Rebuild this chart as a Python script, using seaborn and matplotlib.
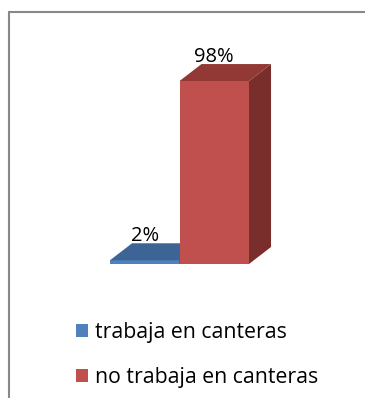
import matplotlib
matplotlib.use("Agg")
import matplotlib.pyplot as plt
from matplotlib.patches import Polygon, Patch
from matplotlib.lines import Line2D
import seaborn as sns
import pandas as pd

sns.set_theme(style="white")
plt.rcParams["font.family"] = ["Open Sans", "DejaVu Sans"]
plt.rcParams["text.color"] = "#000000"

categories = ["trabaja en canteras", "no trabaja en canteras"]
values = [2, 98]
value_labels = ["2%", "98%"]

front_colors = ["#4F81BD", "#C0504D"]
top_colors = ["#3C6596", "#923936"]
side_colors = ["#2F5078", "#7A2E2C"]

# depth of the extruded faces, in data units
DEPTH_X = 0.317
DEPTH_Y = 9.1

W, H, DPI = 365, 398, 100
fig = plt.figure(figsize=(W / DPI, H / DPI), dpi=DPI)

# axes placed so that one bar is ~69.5 px wide and 1 unit is ~1.87 px
left_px, right_px = 110, 290
base_px, top_px = 264, 30
ax = fig.add_axes([left_px / W, (H - base_px) / H,
                   (right_px - left_px) / W, (base_px - top_px) / H])

df = pd.DataFrame({"grupo": categories, "valor": values})
sns.barplot(data=df, x="grupo", y="valor", hue="grupo", palette=front_colors,
            width=1.0, saturation=1.0, legend=False, ax=ax, zorder=1)

px_per_bar = 69.5
ax.set_xlim(-0.5, -0.5 + (right_px - left_px) / px_per_bar)
ax.set_ylim(0, (base_px - top_px) / 1.867)
ax.axis("off")

for i, bar in enumerate(ax.patches):
    x0 = bar.get_x()
    x1 = x0 + bar.get_width()
    h = bar.get_height()
    z = 2 * i + 1
    bar.set_zorder(z)
    bar.set_edgecolor("none")
    top = Polygon([(x0, h), (x1, h), (x1 + DEPTH_X, h + DEPTH_Y),
                   (x0 + DEPTH_X, h + DEPTH_Y)], closed=True,
                  facecolor=top_colors[i], edgecolor="none", zorder=z)
    side = Polygon([(x1, 0), (x1 + DEPTH_X, DEPTH_Y),
                    (x1 + DEPTH_X, h + DEPTH_Y), (x1, h)], closed=True,
                   facecolor=side_colors[i], edgecolor="none", zorder=z)
    ax.add_patch(side)
    ax.add_patch(top)
    ax.text((x0 + x1) / 2, h + DEPTH_Y - 1.5, value_labels[i], ha="center",
            va="bottom", fontsize=14.5, color="#000000", zorder=10)

# outer chart frame (top and left edges)
frame_color = "#888888"
fig.add_artist(Line2D([9 / W, 1.0], [1 - 12 / H, 1 - 12 / H],
                      transform=fig.transFigure, color=frame_color, lw=1.5))
fig.add_artist(Line2D([9 / W, 9 / W], [0.0, 1 - 12 / H],
                      transform=fig.transFigure, color=frame_color, lw=1.5))

handles = [Patch(facecolor=c, edgecolor="none") for c in front_colors]
leg = fig.legend(handles, categories, loc="upper left",
                 bbox_to_anchor=(76 / W, 1 - 322 / H), frameon=False,
                 fontsize=15.3, handlelength=0.56, handleheight=0.56,
                 handletextpad=0.33, labelspacing=1.12, borderpad=0,
                 borderaxespad=0)
for t in leg.get_texts():
    t.set_color("#000000")

fig.savefig("out.png", dpi=DPI)
